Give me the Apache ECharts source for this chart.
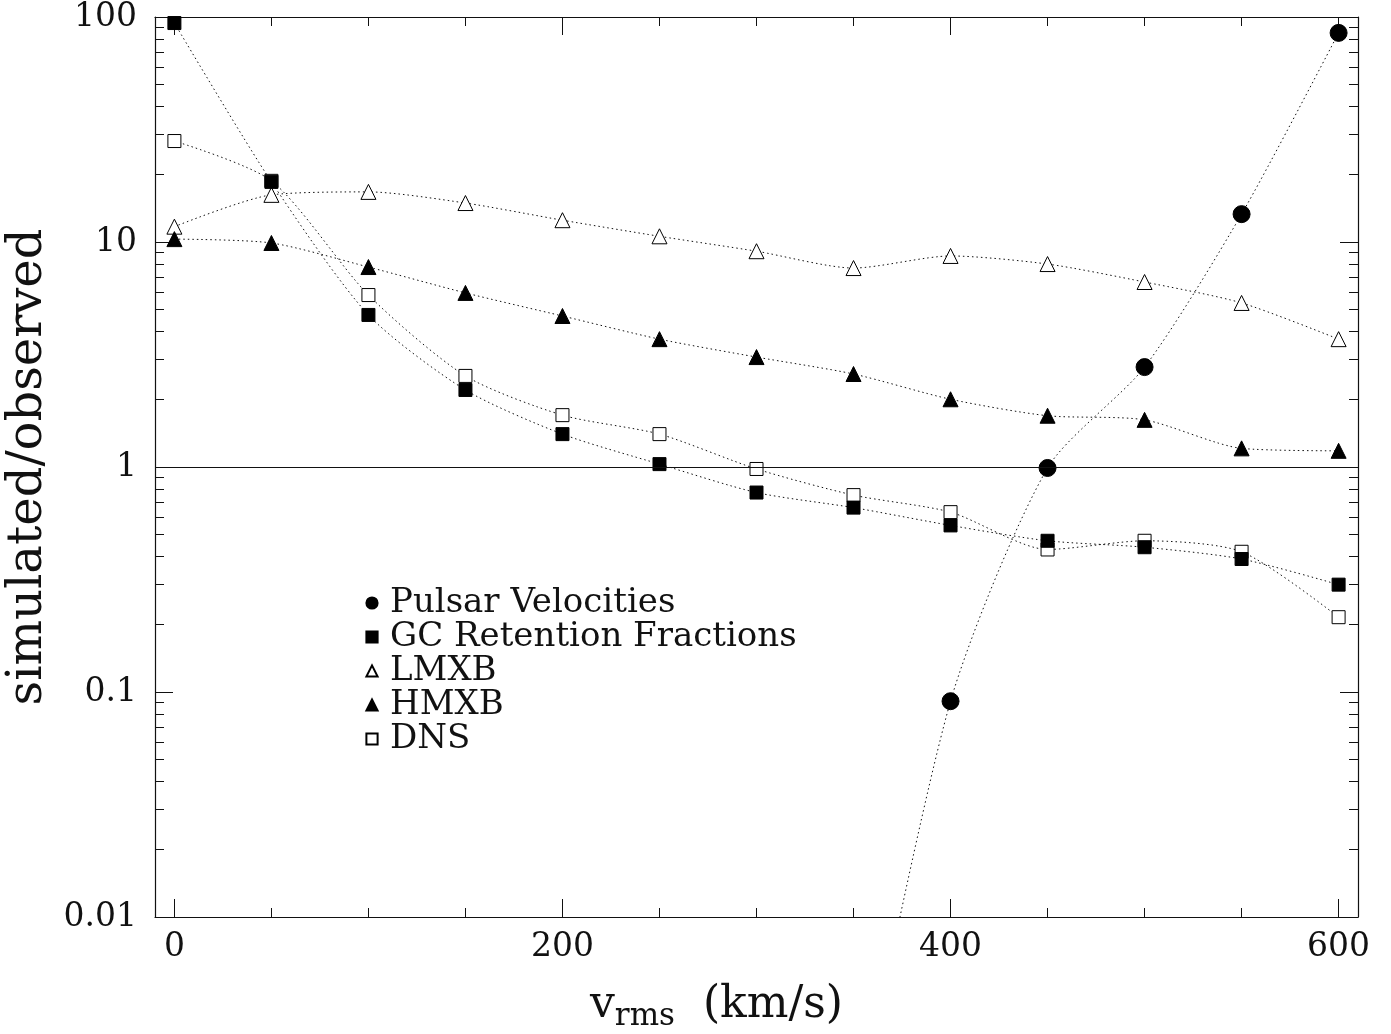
<!DOCTYPE html>
<html>
<head>
<meta charset="utf-8">
<script src="https://cdn.jsdelivr.net/npm/echarts@6/dist/echarts.min.js"></script>
<style>
  html, body { margin: 0; padding: 0; background: #fff; }
  #main { width: 1391px; height: 1034px; }
</style>
</head>
<body>
<div id="main"></div>
<script>
// v_rms grid (km/s)
var vrms = [0, 50, 100, 150, 200, 250, 300, 350, 400, 450, 500, 550, 600];

// simulated / observed ratios
var pulsar = [null, null, null, null, null, null, null, 0.001, 0.091, 0.99, 2.78, 13.3, 85];
var gcRetention = [94, 18.5, 4.74, 2.2, 1.40, 1.03, 0.77, 0.66, 0.55, 0.47, 0.44, 0.39, 0.30];
var lmxb = [11.7, 16.2, 16.7, 14.9, 12.5, 10.6, 9.1, 7.66, 8.67, 7.98, 6.64, 5.36, 3.7];
var hmxb = [10.3, 9.9, 7.74, 5.94, 4.69, 3.7, 3.08, 2.59, 2.0, 1.69, 1.62, 1.21, 1.18];
var dns = [28.1, 18.7, 5.81, 2.54, 1.70, 1.40, 0.98, 0.75, 0.63, 0.43, 0.47, 0.42, 0.215];

// ticks
var xMajor = [0, 200, 400, 600];
var xMinor = [50, 100, 150, 250, 300, 350, 450, 500, 550];
var yMajor = [0.01, 0.1, 1, 10, 100];
var yMinor = [0.02, 0.03, 0.04, 0.05, 0.06, 0.07, 0.08, 0.09,
              0.2, 0.3, 0.4, 0.5, 0.6, 0.7, 0.8, 0.9,
              2, 3, 4, 5, 6, 7, 8, 9,
              20, 30, 40, 50, 60, 70, 80, 90];

var FONT = 'DejaVu Serif';
var INK = '#111';

function pairs(ys) {
  var out = [];
  for (var i = 0; i < vrms.length; i++) {
    out.push([vrms[i], ys[i]]);
  }
  return out;
}

function xAx(pos, ticks, len, showLine, labels) {
  return {
    type: 'value', position: pos, min: -10, max: 610,
    axisLine: { show: showLine, onZero: false, lineStyle: { color: INK, width: 1.2 } },
    axisTick: { show: true, inside: true, length: len, customValues: ticks, lineStyle: { color: INK, width: 1 } },
    axisLabel: labels ? { show: true, customValues: xMajor, margin: 14, color: INK, fontFamily: FONT, fontSize: 33 } : { show: false },
    splitLine: { show: false }
  };
}

function yAx(pos, ticks, len, showLine, labels) {
  return {
    type: 'log', logBase: 10, position: pos, min: 0.01, max: 100,
    axisLine: { show: showLine, onZero: false, lineStyle: { color: INK, width: 1.2 } },
    axisTick: { show: true, inside: true, length: len, customValues: ticks, lineStyle: { color: INK, width: 1 } },
    axisLabel: labels ? { show: true, customValues: yMajor, margin: 18, color: INK, fontFamily: FONT, fontSize: 33,
      formatter: function (v) { return String(+v.toPrecision(3)); } } : { show: false },
    splitLine: { show: false }
  };
}

var lineStyle = { color: INK, width: 1, type: [1.5, 3] };

function series(name, ys, symbol, size, filled) {
  return {
    name: name, type: 'line', xAxisIndex: 0, yAxisIndex: 0,
    data: pairs(ys), smooth: 0.25,
    symbol: symbol, symbolSize: size,
    lineStyle: lineStyle,
    itemStyle: { color: filled ? '#000' : '#fff', borderColor: '#000', borderWidth: 1 },
    emphasis: { disabled: true },
    z: filled ? 3 : 2
  };
}

var chart = echarts.init(document.getElementById('main'));

var s = [
  series('Pulsar Velocities', pulsar, 'circle', 17, true),
  series('GC Retention Fractions', gcRetention, 'rect', 13, true),
  series('LMXB', lmxb, 'triangle', 15, false),
  series('HMXB', hmxb, 'triangle', 15, true),
  series('DNS', dns, 'rect', 13, false)
];
// the ratio = 1 reference line
s[0].markLine = {
  silent: true, symbol: 'none', label: { show: false },
  lineStyle: { color: INK, width: 1.2, type: 'solid' },
  data: [{ yAxis: 1 }]
};

var xAxes = [
  xAx('bottom', xMajor, 18, true, true),
  xAx('bottom', xMinor, 9, false, false),
  xAx('top', xMajor, 18, true, false),
  xAx('top', xMinor, 9, false, false)
];
xAxes[0].name = '{v|v}{sub|rms}  (km/s)';
xAxes[0].nameLocation = 'middle';
xAxes[0].nameGap = 62;
xAxes[0].nameTextStyle = {
  color: INK, fontFamily: FONT, fontSize: 44, padding: [0, 80, 0, 0],
  rich: {
    v: { fontFamily: FONT, fontSize: 44, color: INK },
    sub: { fontFamily: FONT, fontSize: 31, color: INK, padding: [22, 0, 0, 0] }
  }
};

var yAxes = [
  yAx('left', yMajor, 18, true, true),
  yAx('left', yMinor, 9, false, false),
  yAx('right', yMajor, 18, true, false),
  yAx('right', yMinor, 9, false, false)
];
yAxes[0].name = 'simulated/observed';
yAxes[0].nameLocation = 'middle';
yAxes[0].nameGap = 100;
yAxes[0].nameTextStyle = { color: INK, fontFamily: FONT, fontSize: 48 };

chart.setOption({
  backgroundColor: '#fff',
  animation: false,
  grid: { left: 155, right: 33, top: 17, bottom: 117, containLabel: false, outerBoundsMode: 'none' },
  legend: {
    orient: 'vertical', left: 360, top: 581,
    itemWidth: 14, itemHeight: 14, itemGap: 0,
    lineStyle: { width: 0, opacity: 0 },
    selectedMode: false,
    textStyle: { color: INK, fontFamily: FONT, fontSize: 34, lineHeight: 33.5, padding: [0, 0, 0, 6] },
    data: ['Pulsar Velocities', 'GC Retention Fractions', 'LMXB', 'HMXB', 'DNS']
  },
  xAxis: xAxes,
  yAxis: yAxes,
  series: s
});
</script>
</body>
</html>
